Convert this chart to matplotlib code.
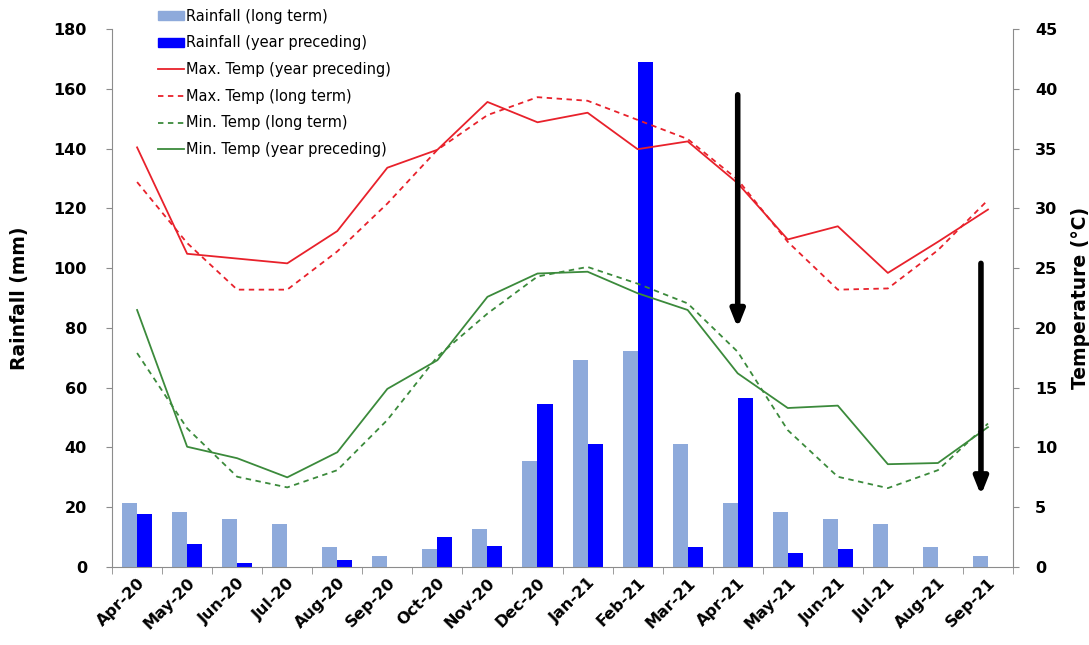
import numpy as np
from matplotlib import pyplot as plt
from matplotlib.lines import Line2D
from matplotlib.patches import Patch

months = ['Apr-20', 'May-20', 'Jun-20', 'Jul-20', 'Aug-20', 'Sep-20', 'Oct-20', 'Nov-20', 'Dec-20',
          'Jan-21', 'Feb-21', 'Mar-21', 'Apr-21', 'May-21', 'Jun-21', 'Jul-21', 'Aug-21', 'Sep-21']

rain_long = [21.5, 18.5, 16.0, 14.5, 6.6, 3.7, 6.0, 12.6, 35.6,
             69.3, 72.4, 41.0, 21.5, 18.5, 16.0, 14.5, 6.6, 3.7]
rain_year = [17.6, 7.7, 1.2, 0, 2.4, 0, 10.0, 6.9, 54.4,
             41.2, 169.0, 6.8, 56.4, 4.7, 5.9, 0, 0, 0]

tmax_year = [35.1, 26.2, 25.8, 25.4, 28.1, 33.4, 34.9, 38.9, 37.2,
             38.0, 34.95, 35.6, 32.1, 27.4, 28.5, 24.6, 27.2, 29.9]
tmax_long = [32.2, 27.1, 23.2, 23.2, 26.4, 30.4, 34.9, 37.8, 39.3,
             39.0, 37.4, 35.8, 32.4, 27.2, 23.2, 23.3, 26.5, 30.7]
tmin_long = [17.9, 11.6, 7.55, 6.66, 8.1, 12.3, 17.6, 21.2, 24.3,
             25.1, 23.7, 22.05, 18.0, 11.45, 7.55, 6.6, 8.1, 12.0]
tmin_year = [21.5, 10.06, 9.1, 7.5, 9.6, 14.9, 17.3, 22.6, 24.55,
             24.7, 22.9, 21.5, 16.2, 13.3, 13.5, 8.6, 8.7, 11.7]

# arrows: (x position, start temp, end temp)
arrows = [(12, 39.5, 20.0), (16.86, 25.4, 6.0)]

plt.rcParams['font.family'] = ['DejaVu Sans']
light_blue = '#8eaadb'
dark_blue = '#0000ff'
red = '#e8212b'
green = '#3b8a3b'
spine_col = '#8c8c8c'

fig = plt.figure(figsize=(10.89, 6.45), dpi=100)
ax1 = fig.add_axes([0.1029, 0.1209, 0.8273, 0.8341])
ax2 = ax1.twinx()

x = np.arange(len(months))
w = 0.3
ax1.bar(x - w / 2, rain_long, width=w, color=light_blue, zorder=2)
ax1.bar(x + w / 2, rain_year, width=w, color=dark_blue, zorder=2)

lw = 1.3
dash = (0, (3, 2.5))
ax2.plot(x, tmax_year, color=red, lw=lw)
ax2.plot(x, tmax_long, color=red, lw=lw, ls=dash)
ax2.plot(x, tmin_long, color=green, lw=lw, ls=dash)
ax2.plot(x, tmin_year, color=green, lw=lw)

for xa, y0, y1 in arrows:
    ax2.annotate('', xy=(xa, y1), xytext=(xa, y0),
                 arrowprops=dict(arrowstyle='-|>,head_length=1.0,head_width=0.4', color='black', lw=4,
                                 shrinkA=0, shrinkB=0))

ax1.set_xlim(-0.5, len(months) - 0.5)
ax1.set_ylim(0, 180)
ax2.set_ylim(0, 45)
ax1.set_yticks(range(0, 181, 20))
ax2.set_yticks(range(0, 46, 5))

ax1.set_xticks(x)
ax1.set_xticklabels(months, rotation=45, ha='right', rotation_mode='anchor', fontweight='bold', fontsize=11.5)
ax1.set_xticks(np.arange(-0.5, len(months), 1), minor=True)
ax1.tick_params(axis='x', which='major', length=0, pad=6)
ax1.tick_params(axis='x', which='minor', length=5, color=spine_col)
ax1.tick_params(axis='y', length=4, color=spine_col, labelsize=11.5, pad=14)
ax2.tick_params(axis='y', length=4, color=spine_col, labelsize=11.5, pad=12)
for lab in ax1.get_yticklabels() + ax2.get_yticklabels():
    lab.set_fontweight('bold')

for ax in (ax1, ax2):
    ax.spines['top'].set_visible(False)
    for s in ('left', 'right', 'bottom'):
        ax.spines[s].set_color(spine_col)
ax1.spines['right'].set_visible(False)
ax2.spines['left'].set_visible(False)
ax2.spines['bottom'].set_visible(False)

ax1.set_ylabel('Rainfall (mm)', fontweight='bold', fontsize=13.5, labelpad=18)
ax2.set_ylabel('Temperature (°C)', fontweight='bold', fontsize=13.5, labelpad=10)

handles = [
    Patch(color=light_blue, label='Rainfall (long term)'),
    Patch(color=dark_blue, label='Rainfall (year preceding)'),
    Line2D([], [], color=red, lw=lw, label='Max. Temp (year preceding)'),
    Line2D([], [], color=red, lw=lw, ls=dash, label='Max. Temp (long term)'),
    Line2D([], [], color=green, lw=lw, ls=dash, label='Min. Temp (long term)'),
    Line2D([], [], color=green, lw=lw, label='Min. Temp (year preceding)'),
]
ax2.legend(handles=handles, loc='upper left', bbox_to_anchor=(0.036, 1.062), frameon=False,
           fontsize=10.5, handlelength=1.8, handletextpad=0.15, labelspacing=0.8, handleheight=0.6)

plt.savefig('out.png', dpi=100)
